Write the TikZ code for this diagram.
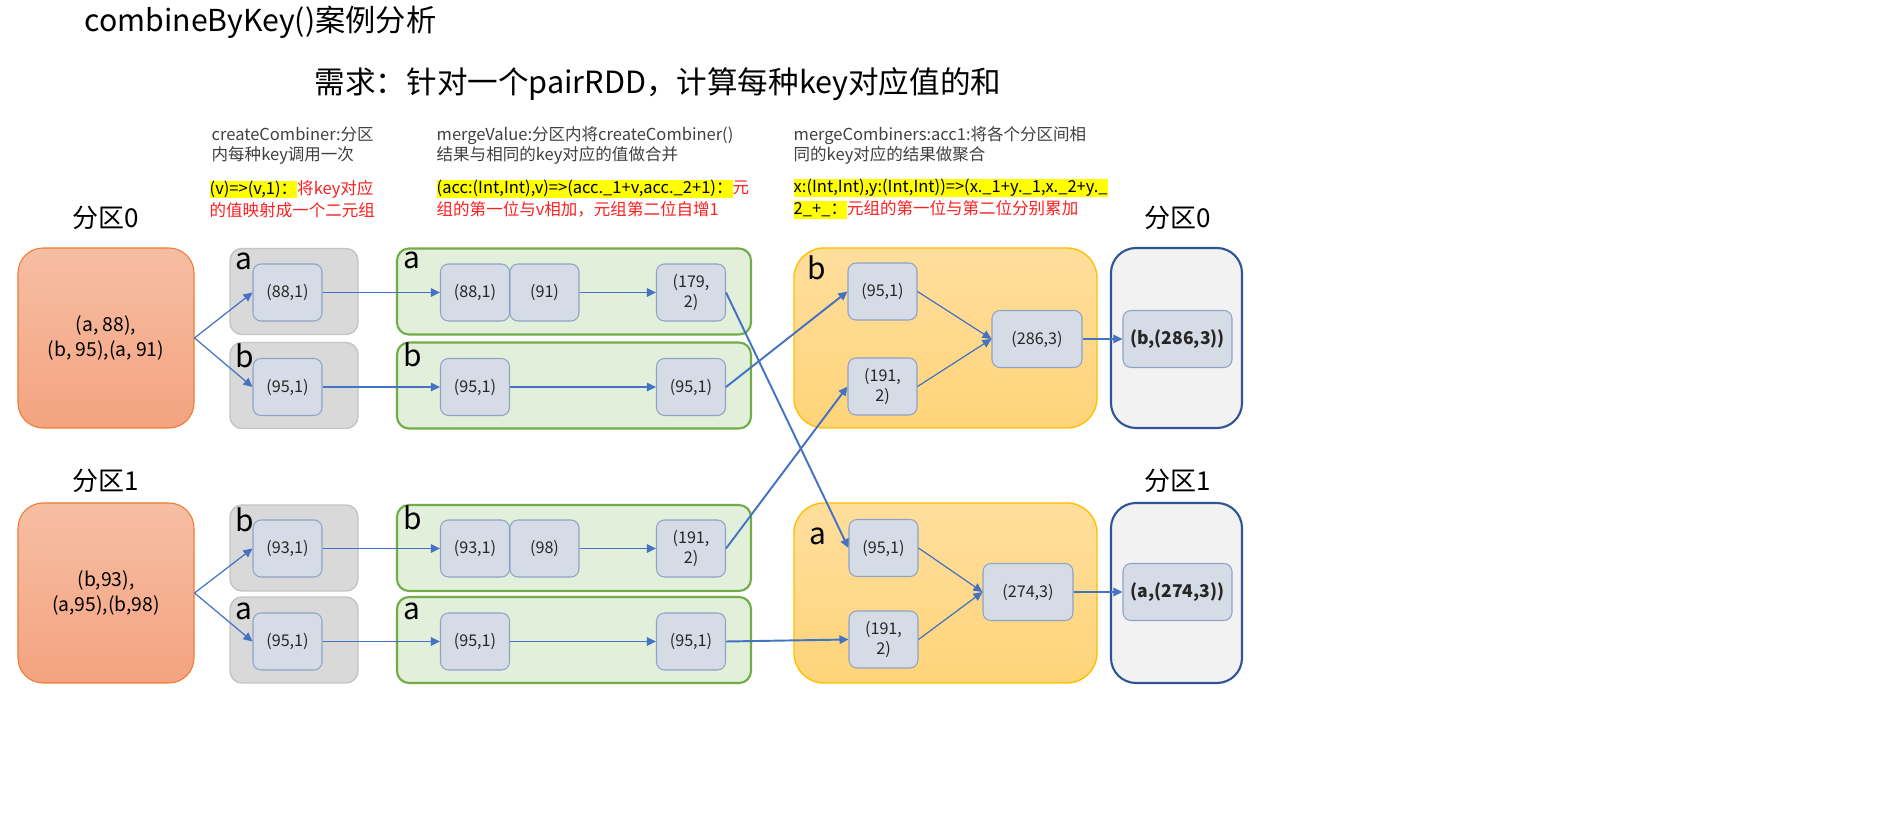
\documentclass[tikz,border=0pt]{standalone}
\usepackage{fontspec}
\setmainfont{Noto Sans CJK SC}
\usepackage{xcolor}
\usepackage{tikz}
\usetikzlibrary{arrows.meta, positioning, backgrounds}
\definecolor{orgdraw}{HTML}{ED7D31}
\definecolor{orgtop}{HTML}{F6BEA4}
\definecolor{orgbot}{HTML}{F4A37F}
\definecolor{grayfill}{HTML}{D9D9D9}
\definecolor{graydraw}{HTML}{C4C4C4}
\definecolor{greenfill}{HTML}{E2EFDA}
\definecolor{greendraw}{HTML}{70AD47}
\definecolor{itemfill}{HTML}{D6DCE5}
\definecolor{itemdraw}{HTML}{8FA3C6}
\definecolor{goldtop}{HTML}{FFDE9D}
\definecolor{goldbot}{HTML}{FFD479}
\definecolor{golddraw}{HTML}{FFC000}
\definecolor{outfill}{HTML}{F2F2F2}
\definecolor{outdraw}{HTML}{2F5597}
\definecolor{arrowblue}{HTML}{4472C4}
\definecolor{notegray}{HTML}{404040}
\definecolor{notered}{HTML}{FF1F1F}
\definecolor{hlyellow}{HTML}{FFFF00}
\tikzset{
  part/.style={rectangle, rounded corners=0.25cm, draw=orgdraw, line width=0.3pt,
    top color=orgtop, bottom color=orgbot, minimum width=1.76cm, minimum height=1.80cm,
    align=center, inner sep=0pt, font=\fontsize{5.5}{7}\selectfont},
  grp/gray/.style={rectangle, rounded corners=0.12cm, fill=grayfill, draw=graydraw,
    line width=0.4pt, minimum width=1.28cm, minimum height=0.86cm},
  grp/green/.style={rectangle, rounded corners=0.12cm, fill=greenfill, draw=greendraw,
    line width=0.6pt, minimum width=3.54cm, minimum height=0.86cm},
  grp/gold/.style={rectangle, rounded corners=0.3cm, top color=goldtop, bottom color=goldbot,
    draw=golddraw, line width=0.4pt, minimum width=3.03cm, minimum height=1.80cm},
  grp/out/.style={rectangle, rounded corners=0.25cm, fill=outfill, draw=outdraw,
    line width=0.6pt, minimum width=1.31cm, minimum height=1.80cm},
  item/.style={rectangle, rounded corners=0.08cm, fill=itemfill, draw=itemdraw, line width=0.3pt,
    minimum width=0.69cm, minimum height=0.57cm, align=center, inner sep=0pt,
    font=\fontsize{4.6}{5.7}\selectfont, text=black!85},
  keylbl/.style={anchor=base west, inner sep=0pt, font=\fontsize{8.5}{10}\selectfont},
  plbl/.style={inner sep=0pt, font=\fontsize{7.4}{9}\selectfont},
  note/.style={anchor=west, align=left, inner sep=0pt, text=notegray, font=\fontsize{4.7}{5.7}\selectfont},
  hnote/.style={anchor=west, align=left, inner sep=0pt, font=\fontsize{4.7}{6.26}\selectfont},
  flow/.style={-{Triangle[length=0.09cm, width=0.085cm]}, draw=arrowblue, line width=0.35pt},
  flow/bold/.style={flow, line width=0.55pt},
}
\newcommand{\HL}[1]{{\fboxsep=0pt\colorbox{hlyellow}{\rule[-1.2pt]{0pt}{5.1pt}#1}}}
\newcommand{\RD}[1]{\textcolor{notered}{#1}}

\begin{document}
\begin{tikzpicture}

\fill[white] (0,0) rectangle (18.78,-8.20);
\useasboundingbox (0,0) rectangle (18.78,-8.20);

%% ===== HEADINGS =====
\node[anchor=west, inner sep=0pt, font=\fontsize{8.6}{10}\selectfont] (TITLE) at (0.84,-0.22) {combineByKey()案例分析};
\node[anchor=west, inner sep=0pt, font=\fontsize{8.7}{10}\selectfont] (GOAL) at (3.14,-0.84) {需求：针对一个pairRDD，计算每种key对应值的和};

\node[note] (N1) at (2.11,-1.457) {createCombiner:分区\\内每种key调用一次};
\node[hnote] (H1) at (2.09,-1.99) {\HL{(v)=>(v,1)：}\RD{将key对应}\\\RD{的值映射成一个二元组}};
\node[note] (N2) at (4.36,-1.457) {mergeValue:分区内将createCombiner()\\结果与相同的key对应的值做合并};
\node[hnote] (H2) at (4.36,-1.99) {\HL{(acc:(Int,Int),v)=>(acc.\_1+v,acc.\_2+1)：}\RD{元}\\\RD{组的第一位与v相加，元组第二位自增1}};
\node[note] (N3) at (7.93,-1.457) {mergeCombiners:acc1:将各个分区间相\\同的key对应的结果做聚合};
\node[hnote] (H3) at (7.93,-1.99) {\HL{x:(Int,Int),y:(Int,Int))=>(x.\_1+y.\_1,x.\_2+y.\_}\\\HL{2\_+\_：}\RD{元组的第一位与第二位分别累加}};

%% ===== INPUT PARTITIONS =====
\node[plbl] (P0lbl) at (1.06,-2.18) {分区0};
\node[part] (P0) at (1.06,-3.38) {(a, 88),\\(b, 95),(a, 91)};
\node[plbl] (P1lbl) at (1.06,-4.81) {分区1};
\node[part] (P1) at (1.06,-5.93) {(b,93),\\(a,95),(b,98)};

%% ===== createCombiner =====
\node[grp/gray] (GA0) at (2.94,-2.915) {};
\node[grp/gray] (GB0) at (2.94,-3.855) {};
\node[grp/gray] (GB1) at (2.94,-5.48) {};
\node[grp/gray] (GA1) at (2.94,-6.40) {};
\node[item] (CA0) at (2.875,-2.925) {(88,1)};
\node[item] (CB0) at (2.875,-3.87) {(95,1)};
\node[item] (CB1) at (2.875,-5.485) {(93,1)};
\node[item] (CA1) at (2.875,-6.415) {(95,1)};
\node[keylbl] at (2.35,-2.70) {a};
\node[keylbl] at (2.35,-3.68) {b};
\node[keylbl] at (2.35,-5.32) {b};
\node[keylbl] at (2.35,-6.20) {a};

%% ===== mergeValue =====
\node[grp/green] (MA0) at (5.74,-2.915) {};
\node[grp/green] (MB0) at (5.74,-3.855) {};
\node[grp/green] (MB1) at (5.74,-5.48) {};
\node[grp/green] (MA1) at (5.74,-6.40) {};
\node[item] (VA0)  at (4.75,-2.925) {(88,1)};
\node[item] (VA0x) at (5.445,-2.925) {(91)};
\node[item] (VA0s) at (6.91,-2.925) {(179,\\2)};
\node[item] (VB0)  at (4.75,-3.87) {(95,1)};
\node[item] (VB0s) at (6.91,-3.87) {(95,1)};
\node[item] (VB1)  at (4.75,-5.485) {(93,1)};
\node[item] (VB1x) at (5.445,-5.485) {(98)};
\node[item] (VB1s) at (6.91,-5.485) {(191,\\2)};
\node[item] (VA1)  at (4.75,-6.415) {(95,1)};
\node[item] (VA1s) at (6.91,-6.415) {(95,1)};
\node[keylbl] at (4.03,-2.69) {a};
\node[keylbl] at (4.03,-3.67) {b};
\node[keylbl] at (4.03,-5.30) {b};
\node[keylbl] at (4.03,-6.20) {a};

%% ===== mergeCombiners =====
\node[grp/gold] (K0) at (9.455,-3.38) {};
\node[grp/gold] (K1) at (9.455,-5.93) {};
\node[item] (KB0a) at (8.825,-2.915) {(95,1)};
\node[item] (KB0b) at (8.825,-3.865) {(191,\\2)};
\node[item, minimum width=0.90cm] (KB0s) at (10.37,-3.39) {(286,3)};
\node[item] (KA1a) at (8.835,-5.48) {(95,1)};
\node[item] (KA1b) at (8.835,-6.395) {(191,\\2)};
\node[item, minimum width=0.90cm] (KA1s) at (10.28,-5.92) {(274,3)};
\node[keylbl] at (8.07,-2.80) {b};
\node[keylbl] at (8.09,-5.44) {a};

%% ===== OUTPUT PARTITIONS =====
\node[plbl] (R0lbl) at (11.78,-2.18) {分区0};
\node[grp/out] (R0) at (11.765,-3.38) {};
\node[plbl] (R1lbl) at (11.78,-4.81) {分区1};
\node[grp/out] (R1) at (11.765,-5.93) {};
\node[item, minimum width=1.09cm, font=\fontsize{5}{6}\selectfont\bfseries] (F0) at (11.775,-3.39) {(b,(286,3))};
\node[item, minimum width=1.09cm, font=\fontsize{5}{6}\selectfont\bfseries] (F1) at (11.775,-5.92) {(a,(274,3))};

%% ===== ARROWS =====
\draw[flow] (P0.east) -- (CA0.west);
\draw[flow] (P0.east) -- (CB0.west);
\draw[flow] (P1.east) -- (CB1.west);
\draw[flow] (P1.east) -- (CA1.west);
\draw[flow] (CA0.east) -- (VA0.west);
\draw[flow] (CB0.east) -- (VB0.west);
\draw[flow] (CB1.east) -- (VB1.west);
\draw[flow] (CA1.east) -- (VA1.west);
\draw[flow] (VA0x.east) -- (VA0s.west);
\draw[flow] (VB0.east) -- (VB0s.west);
\draw[flow] (VB1x.east) -- (VB1s.west);
\draw[flow] (VA1.east) -- (VA1s.west);
\draw[flow/bold] (VA0s.east) -- (KA1a.west);
\draw[flow/bold] (VB0s.east) -- (KB0a.west);
\draw[flow/bold] (VB1s.east) -- (KB0b.west);
\draw[flow/bold] (VA1s.east) -- (KA1b.west);
\draw[flow] (KB0a.east) -- (KB0s.west);
\draw[flow] (KB0b.east) -- (KB0s.west);
\draw[flow] (KA1a.east) -- (KA1s.west);
\draw[flow] (KA1b.east) -- (KA1s.west);
\draw[flow] (KB0s.east) -- (F0.west);
\draw[flow] (KA1s.east) -- (F1.west);
\end{tikzpicture}
\end{document}
